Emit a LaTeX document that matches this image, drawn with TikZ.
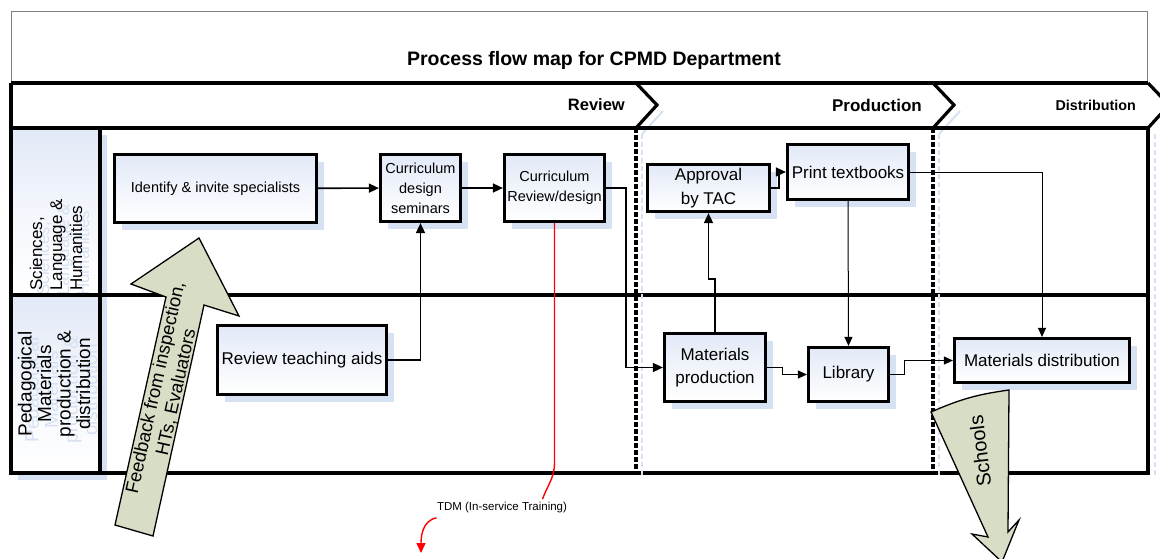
\documentclass[tikz,border=0pt]{standalone}
\usepackage{fontspec}
\setmainfont{Liberation Sans}
\usetikzlibrary{shadows, arrows.meta}

\definecolor{shadowblue}{RGB}{214,225,243}
\definecolor{paleblue}{RGB}{226,233,247}
\definecolor{khaki}{RGB}{216,221,198}

\begin{document}
\begin{tikzpicture}[x=1pt, y=-1pt,
    process/.style={rectangle, draw, line width=3.2pt, align=center, inner sep=1pt,
                    top color=paleblue, bottom color=white,
                    drop shadow={shadow xshift=7pt, shadow yshift=-7pt, fill=shadowblue, opacity=1},
                    font=\fontsize{17}{23}\selectfont},
    smalltext/.style={font=\fontsize{14.5}{20}\selectfont},
    conn/.style={-{Triangle[length=10pt, width=9pt]}, line width=1.6pt},
    thinconn/.style={-{Triangle[length=9pt, width=8pt]}, line width=1pt},
    lane/.style={line width=3.2pt},
    phasesep/.style={dash pattern=on 4.5pt off 2.5pt, line width=3.2pt},
    sepshadow/.style={dash pattern=on 5pt off 3pt, line width=2pt, shadowblue},
    phaselabel/.style={anchor=east, inner sep=0pt},
    bigarrow/.style={draw, fill=khaki, line width=1.3pt, line join=miter},
    lanetext/.style={rotate=90, inner sep=0pt}
]
    \useasboundingbox (0,0) rectangle (1160,558);

    % Title strip
    \draw[gray, line width=0.9pt] (11,83) -- (11,11) -- (1147,11) -- (1147,83);
    \node[font=\bfseries\fontsize{19.5}{22}\selectfont] (title) at (594,60)
        {Process flow map for CPMD Department};

    % Phase bar with chevrons
    \draw[shadowblue, line width=2pt] (663,111) -- (642,134);
    \draw[shadowblue, line width=2pt] (960,111) -- (939,134);
    \draw[lane, line join=miter] (11,83) -- (1148,83);
    \draw[lane, line join=miter] (636,83) -- (657,105) -- (636,128);
    \draw[lane, line join=miter] (933,83) -- (954,105) -- (933,128);
    \draw[lane, line join=miter] (1148,83) -- (1169,105) -- (1148,128);
    \node[phaselabel, font=\bfseries\fontsize{16.5}{18}\selectfont] (review) at (625,105) {Review};
    \node[phaselabel, font=\bfseries\fontsize{17}{18}\selectfont] (production) at (922,105) {Production};
    \node[phaselabel, font=\bfseries\fontsize{14.3}{16}\selectfont] (distribution) at (1136,105) {Distribution};

    % Lane headers
    \fill[shadowblue] (18,135) rectangle (107,480);
    \shade[top color=paleblue, bottom color=white, middle color=white!60!paleblue] (11,128) rectangle (100,295);
    \shade[top color=paleblue, bottom color=white, middle color=white!60!paleblue] (11,295) rectangle (100,473);
    \node[lanetext, anchor=west, align=left, shadowblue, font=\fontsize{17}{20}\selectfont]
        at (63,296) {Sciences,\\Language \&\\Humanities};
    \node[lanetext, anchor=west, align=left, font=\fontsize{17}{20}\selectfont]
        (sciences) at (56,291) {Sciences,\\Language \&\\Humanities};
    \node[lanetext, align=center, shadowblue, font=\fontsize{19}{19.5}\selectfont]
        at (61,390) {Pedagogical\\Materials\\production \&\\distribution};
    \node[lanetext, align=center, font=\fontsize{19}{19.5}\selectfont]
        (pedagogy) at (54,384) {Pedagogical\\Materials\\production \&\\distribution};

    % Lane borders
    \draw[lane] (11,83) -- (11,473) -- (1148,473) -- (1148,128);
    \draw[lane] (11,128) -- (1148,128);
    \draw[lane] (11,295) -- (1148,295);
    \draw[lane] (100,128) -- (100,473);

    % Phase separators
    \draw[sepshadow] (642,134) -- (642,476);
    \draw[sepshadow] (939,134) -- (939,476);
    \draw[sepshadow] (1155,134) -- (1155,476);
    \draw[phasesep] (636,128) -- (636,470);
    \draw[phasesep] (933,128) -- (933,470);
    \draw[phasesep] (1148,128) -- (1148,473);

    % Process boxes
    \node[process, smalltext, minimum width=202, minimum height=68] (ident) at (215.5,188.5)
        {Identify \& invite specialists};
    \node[process, smalltext, minimum width=80, minimum height=67] (seminar) at (420.5,188)
        {Curriculum\\design\\seminars};
    \node[process, smalltext, minimum width=100, minimum height=67] (curreview) at (554.5,188)
        {Curriculum\\Review/design};
    \node[process, minimum width=122, minimum height=47, font=\fontsize{17}{24}\selectfont]
        (tac) at (708.5,188) {Approval\\by TAC};
    \node[process, minimum width=121, minimum height=55] (print) at (848,172) {Print textbooks};
    \node[process, minimum width=169, minimum height=69] (aids) at (302,360) {Review teaching aids};
    \node[process, minimum width=101, minimum height=68] (matprod) at (715,367.5)
        {Materials\\production};
    \node[process, minimum width=80, minimum height=54] (library) at (848.5,374.5) {Library};
    \node[process, minimum width=175, minimum height=44] (matdist) at (1042,360.5)
        {Materials distribution};

    % Connectors
    \draw[conn] (ident) -- (seminar);
    \draw[conn] (seminar) -- (curreview);
    \draw[conn] (aids.east) -| (seminar.south);
    \draw[conn] (curreview.east) -- ++(20,0) |- (matprod.west);
    \draw[conn] (matprod.north) -- ++(0,-53) -| (tac.south);
    \draw[conn] (tac.east) -- ++(8,0) |- (print.west);
    \draw[thinconn] (print.south) -- (library.north);
    \draw[thinconn] (print.east) -| (matdist.north);
    \draw[thinconn] (matprod.east) -- ++(15,0) |- (library.west);
    \draw[thinconn] (library.east) -- ++(14,0) |- (matdist.west);

    % In-service training link
    \node[font=\fontsize{11.5}{13}\selectfont] (tdm) at (502,508) {TDM (In-service Training)};
    \draw[red, line width=1.4pt] (curreview.south) -- ++(0,240)
        to[out=-90, in=70] ([xshift=-28pt]tdm.north east);
    \coordinate (tdmdown) at (421,553);
    \draw[red, line width=1.4pt, -{Triangle[length=10pt, width=9pt]}]
        ([xshift=3pt, yshift=-1pt]tdm.south west) to[out=190, in=90] (tdmdown);

    % Feedback block arrow
    \draw[bigarrow] (199,238) -- (239,316) -- (204,305) -- (153,536) -- (115,525)
        -- (166,297) -- (131,284) -- cycle;
    \node[rotate=77.5, align=center, font=\fontsize{18.5}{21}\selectfont] (feedback) at (166,390)
        {Feedback from inspection,\\HTs, Evaluators};

    % Schools block arrow
    \draw[bigarrow] (931,412) to[bend left=8] (1009,390) -- (1008,532) -- (1019,520)
        -- (1002,562) -- (972,534) -- (988,537) -- cycle;
    \node[rotate=97, font=\fontsize{20}{22}\selectfont] (schools) at (980,451) {Schools};
\end{tikzpicture}
\end{document}
